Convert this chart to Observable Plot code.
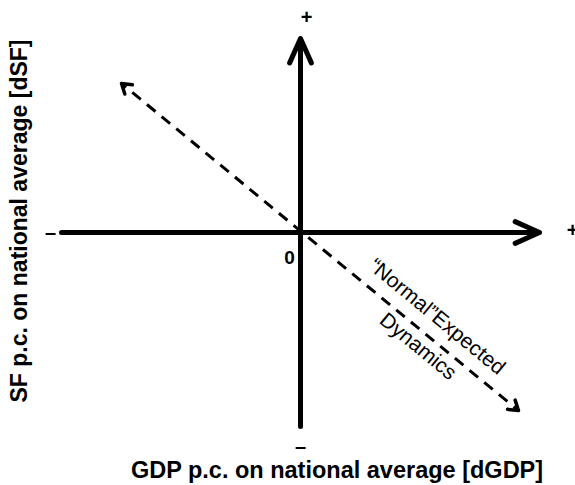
<!DOCTYPE html>
<html><head><meta charset="utf-8">
<script src="https://cdn.jsdelivr.net/npm/d3@7"></script>
<script src="https://cdn.jsdelivr.net/npm/@observablehq/plot@0.6"></script>
<style>body{margin:0;background:#fff}svg{display:block}</style>
</head><body><div id="chart"></div>
<script>
// ---- data ----
const xDomain = [-1, 1];
const yDomain = [-1, 1];
const axesData = [
  {axis: "dGDP", x1: -1, y1: 0, x2: 1, y2: 0},
  {axis: "dSF", x1: 0, y1: -1, x2: 0, y2: 1}
];
const trend = [{x1: -0.749, y1: 0.768, x2: 0.912, y2: -0.918}];
const xLabel = "GDP p.c. on national average [dGDP]";
const yLabel = "SF p.c. on national average [dSF]";
const trendLabels = ["\u201CNormal\u201DExpected", "Dynamics"];
const originLabel = "0";
const plusSign = "+";
const minusSign = "\u2013";

// ---- layout ----
const W = 575, H = 485;
const xRange = [61, 539];
const yRange = [426, 38];
const FONT = "Liberation Sans, Arial, Helvetica, sans-serif";

const sx = Plot.scale({x: {domain: xDomain, range: xRange}});
const sy = Plot.scale({y: {domain: yDomain, range: yRange}});
const t = trend[0];
const pdx = sx.apply(t.x2) - sx.apply(t.x1);
const pdy = sy.apply(t.y2) - sy.apply(t.y1);
const angleDeg = Math.atan2(pdy, pdx) * 180 / Math.PI;
const rotEnd = Math.atan2(pdx, -pdy) * 180 / Math.PI;
const rotStart = Math.atan2(-pdx, pdy) * 180 / Math.PI;
const heads = [
  {x: t.x1, y: t.y1, r: rotStart},
  {x: t.x2, y: t.y2, r: rotEnd}
];
const along = (f) => ({x: t.x1 + f * (t.x2 - t.x1), y: t.y1 + f * (t.y2 - t.y1)});

const chevron = {
  draw(ctx, l) {
    const a = 33 * Math.PI / 180;
    ctx.moveTo(-l * Math.sin(a), l * Math.cos(a));
    ctx.lineTo(0, 0);
    ctx.lineTo(l * Math.sin(a), l * Math.cos(a));
  }
};

const txt = {fontFamily: FONT, fill: "black"};

const chart = Plot.plot({
  width: W, height: H,
  marginTop: 0, marginRight: 0, marginBottom: 0, marginLeft: 0,
  x: {domain: xDomain, range: xRange, axis: null},
  y: {domain: yDomain, range: yRange, axis: null},
  style: {background: "white", fontFamily: FONT},
  marks: [
    Plot.link(trend, {x1: "x1", y1: "y1", x2: "x2", y2: "y2", stroke: "black", strokeWidth: 3, strokeDasharray: "11,8", strokeDashoffset: -14}),
    Plot.vector(heads, {x: "x", y: "y", rotate: "r", length: 11, anchor: "start", shape: chevron, stroke: "black", strokeWidth: 3.5, strokeLinecap: "round", strokeLinejoin: "round"}),
    Plot.arrow(axesData, {x1: "x1", y1: "y1", x2: "x2", y2: "y2", stroke: "black", strokeWidth: 5, headLength: 8, headAngle: 48, strokeLinecap: "round", strokeLinejoin: "round"}),
    Plot.text([plusSign], {...txt, x: () => 0, y: () => 1, dx: 6, dy: -21, fontSize: 20, fontWeight: "bold"}),
    Plot.text([plusSign], {...txt, x: () => 1, y: () => 0, dx: 33, dy: -2, fontSize: 20, fontWeight: "bold"}),
    Plot.text([minusSign], {...txt, x: () => -1, y: () => 0, dx: -11, dy: 0, fontSize: 20, fontWeight: "bold"}),
    Plot.text([minusSign], {...txt, x: () => 0, y: () => -1, dx: 0, dy: 20, fontSize: 20, fontWeight: "bold"}),
    Plot.text([originLabel], {...txt, x: () => 0, y: () => 0, dx: -11, dy: 25, fontSize: 19, fontWeight: "bold"}),
    Plot.text([trendLabels[0]], {...txt, x: () => along(0.762).x, y: () => along(0.762).y, dx: 13, dy: -16, rotate: angleDeg, fontSize: 21}),
    Plot.text([trendLabels[1]], {...txt, x: () => along(0.770).x, y: () => along(0.770).y, dx: -9, dy: 11, rotate: angleDeg, fontSize: 21}),
    Plot.text([xLabel], {...txt, frameAnchor: "bottom", textAnchor: "middle", lineAnchor: "middle", dx: 49, dy: -15, fontSize: 23.5, fontWeight: "bold"}),
    Plot.text([yLabel], {...txt, frameAnchor: "left", textAnchor: "middle", lineAnchor: "middle", dx: 19, dy: -22, rotate: -90, fontSize: 23, fontWeight: "bold"})
  ]
});
document.getElementById("chart").appendChild(chart);
</script>
</body></html>
